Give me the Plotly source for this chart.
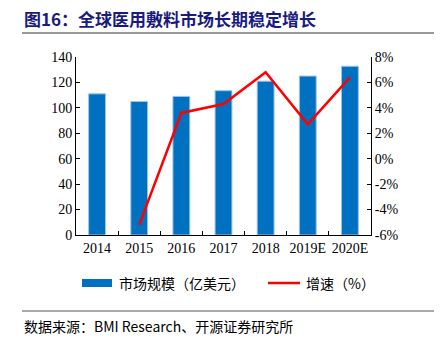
import plotly.graph_objects as go

years = ["2014", "2015", "2016", "2017", "2018", "2019E", "2020E"]
market_size = [111, 105, 109, 113.5, 121, 125, 132.7]
growth_years = ["2015", "2016", "2017", "2018", "2019E", "2020E"]
growth_pct = [-5.2, 3.6, 4.3, 6.8, 2.7, 6.4]
left_ticks = [0, 20, 40, 60, 80, 100, 120, 140]
right_ticks = [-6, -4, -2, 0, 2, 4, 6, 8]

W, H = 441, 345
L, R, T, B = 76, 371, 57, 235

def px(x):
    return (x - L) / (R - L)

def py(y):
    return (B - y) / (B - T)

serif = "Liberation Serif, Times New Roman, serif"
cjk = "Noto Sans CJK SC, Liberation Serif, serif"

fig = go.Figure()
fig.add_trace(go.Bar(
    x=years, y=market_size, name="市场规模（亿美元）",
    marker=dict(color="#0070C0", line=dict(color="#9DC3E6", width=1)),
    width=0.4, yaxis="y", showlegend=False,
))
fig.add_trace(go.Scatter(
    x=growth_years, y=growth_pct, name="增速（%）", mode="lines",
    line=dict(color="#FF0000", width=2.5), yaxis="y2", showlegend=False,
))

fig.update_layout(
    width=W, height=H,
    margin=dict(l=L, r=W - R, t=T, b=H - B),
    paper_bgcolor="white", plot_bgcolor="white",
    font=dict(family=serif, size=14, color="black"),
    xaxis=dict(
        type="category", showline=True, linecolor="black", linewidth=1,
        ticks="inside", tickson="boundaries", ticklen=4, tickcolor="black",
        tickfont=dict(family=serif, size=14), showgrid=False, tickangle=0,
        range=[-0.5, 6.5],
    ),
    yaxis=dict(
        range=[0, 140], tickvals=left_ticks, showline=True, linecolor="black",
        ticks="inside", ticklen=4, tickcolor="black", showgrid=False,
        zeroline=False, tickfont=dict(family=serif, size=14),
    ),
    yaxis2=dict(
        range=[-6, 8], tickvals=right_ticks, ticktext=[f"{v}%" for v in right_ticks],
        overlaying="y", side="right", showline=True, linecolor="black",
        ticks="inside", ticklen=4, tickcolor="black", showgrid=False,
        zeroline=False, tickfont=dict(family=serif, size=14),
    ),
)

shapes = [
    # title underline
    dict(type="line", xref="paper", yref="paper", x0=px(22), x1=px(434), y0=py(33), y1=py(33),
         line=dict(color="#999999", width=2)),
    # footer line
    dict(type="line", xref="paper", yref="paper", x0=px(22), x1=px(434), y0=py(311), y1=py(311),
         line=dict(color="#555555", width=1)),
    # legend swatches
    dict(type="rect", xref="paper", yref="paper", x0=px(82), x1=px(112), y0=py(287), y1=py(279),
         fillcolor="#0070C0", line=dict(width=0)),
    dict(type="line", xref="paper", yref="paper", x0=px(268), x1=px(300), y0=py(283), y1=py(283),
         line=dict(color="#FF0000", width=2.5)),
]
fig.update_layout(shapes=shapes)

annotations = [
    dict(text="<b>图16：全球医用敷料市场长期稳定增长</b>", xref="paper", yref="paper",
         x=px(22), y=py(18), xanchor="left", yanchor="middle", showarrow=False,
         font=dict(family=cjk, size=17, color="#1A1A80")),
    dict(text="市场规模（亿美元）", xref="paper", yref="paper",
         x=px(117), y=py(283), xanchor="left", yanchor="middle", showarrow=False,
         font=dict(family=cjk, size=14, color="black")),
    dict(text="增速（%）", xref="paper", yref="paper",
         x=px(304), y=py(283), xanchor="left", yanchor="middle", showarrow=False,
         font=dict(family=cjk, size=14, color="black")),
    dict(text="数据来源：BMI Research、开源证券研究所", xref="paper", yref="paper",
         x=px(22), y=py(326), xanchor="left", yanchor="middle", showarrow=False,
         font=dict(family=cjk, size=14, color="black")),
]
fig.update_layout(annotations=annotations)

fig.write_html("out.html")
